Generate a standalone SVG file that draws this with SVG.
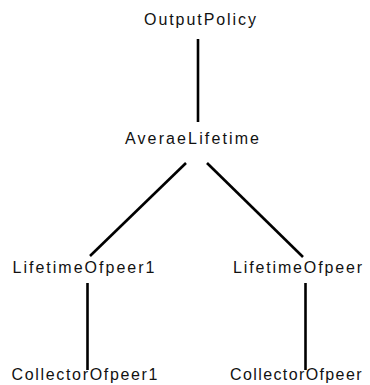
<svg xmlns="http://www.w3.org/2000/svg" width="370" height="385" viewBox="0 0 370 385">
<style>
.t{font-family:"Liberation Sans",Arial,sans-serif;font-size:16px;fill:#111;}
.e{stroke:#000;stroke-width:2.6;fill:none;}
</style>
<rect width="370" height="385" fill="#fff"/>
<g id="connectors">
<line class="e" x1="198" y1="39" x2="198" y2="122"/>
<line class="e" x1="186" y1="163" x2="90" y2="256"/>
<line class="e" x1="207" y1="163" x2="303" y2="257"/>
<line class="e" x1="87.5" y1="283" x2="87.5" y2="370"/>
<line class="e" x1="305.5" y1="283" x2="305.5" y2="370"/>
</g>
<g id="OutputPolicy"><text class="t" x="144" y="25" textLength="112" lengthAdjust="spacing">OutputPolicy</text></g>
<g id="AveraeLifetime"><text class="t" x="125" y="144" textLength="134" lengthAdjust="spacing">AveraeLifetime</text></g>
<g id="LifetimeOfpeer1"><text class="t" x="12.5" y="273" textLength="142" lengthAdjust="spacing">LifetimeOfpeer1</text></g>
<g id="LifetimeOfpeer"><text class="t" x="233" y="273" textLength="129" lengthAdjust="spacing">LifetimeOfpeer</text></g>
<g id="CollectorOfpeer1"><text class="t" x="11.5" y="380" textLength="146" lengthAdjust="spacing">CollectorOfpeer1</text></g>
<g id="CollectorOfpeer"><text class="t" x="230" y="380" textLength="131.5" lengthAdjust="spacing">CollectorOfpeer</text></g>
</svg>
